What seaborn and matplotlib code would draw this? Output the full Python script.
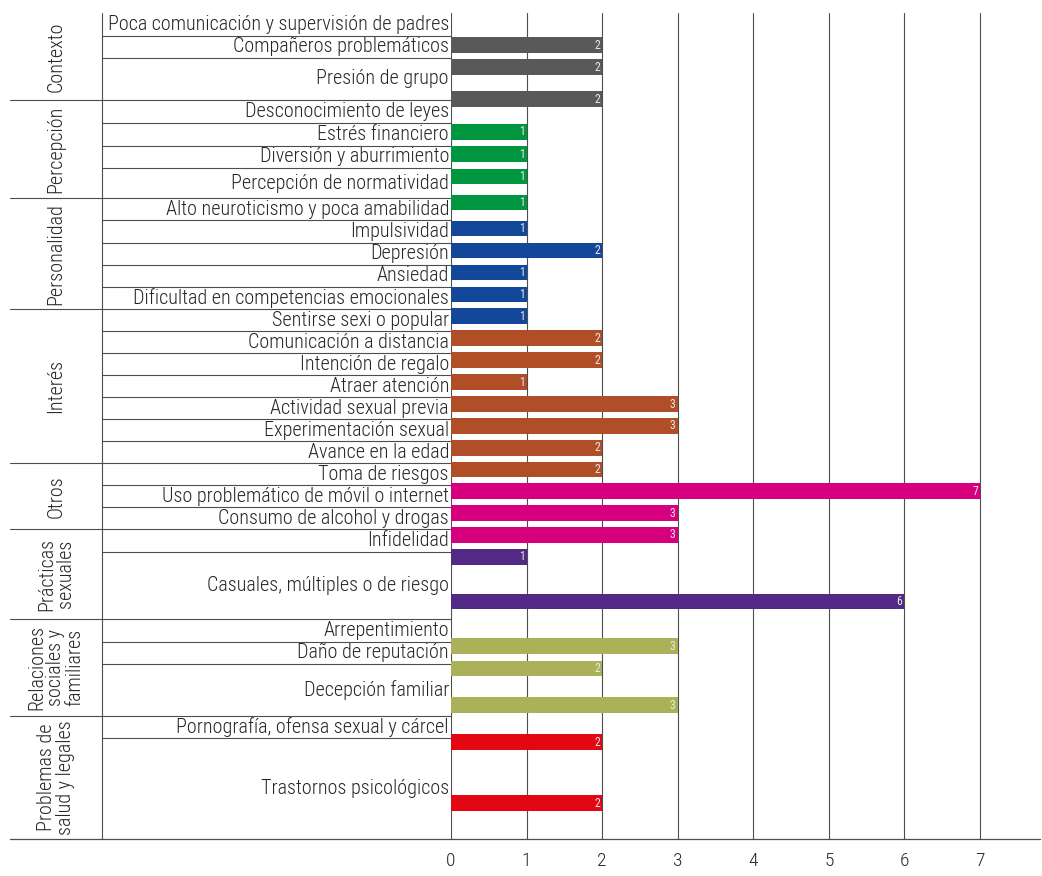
import numpy as np
import pandas as pd
import matplotlib.pyplot as plt
from matplotlib import font_manager as fm
import seaborn as sns


def has_font(name):
    try:
        fm.findfont(fm.FontProperties(family=name), fallback_to_default=False)
        return True
    except ValueError:
        return False


sns.set_theme(style="white")
narrow = next((f for f in ["Liberation Sans Narrow", "Roboto Condensed"] if has_font(f)), None)
main_font = narrow if narrow else "Roboto"
FS = 14.5 if narrow else 13
plt.rcParams['font.family'] = [main_font, 'DejaVu Sans']

# ---- data ----
group_names = ["Contexto", "Percepción", "Personalidad", "Interés", "Otros",
               "Prácticas\nsexuales", "Relaciones\nsociales y\nfamiliares",
               "Problemas de\nsalud y legales"]
group_sizes = [3, 4, 5, 7, 3, 2, 3, 2]
group_colors = ["#595959", "#009640", "#13479a", "#b04f27", "#d6007f",
                "#522a86", "#abb158", "#e30613"]

categories = [
    "Poca comunicación y supervisión de padres", "Compañeros problemáticos", "Presión de grupo",
    "Desconocimiento de leyes", "Estrés financiero", "Diversión y aburrimiento",
    "Percepción de normatividad",
    "Alto neuroticismo y poca amabilidad", "Impulsividad", "Depresión", "Ansiedad",
    "Dificultad en competencias emocionales",
    "Sentirse sexi o popular", "Comunicación a distancia", "Intención de regalo",
    "Atraer atención", "Actividad sexual previa", "Experimentación sexual", "Avance en la edad",
    "Toma de riesgos", "Uso problemático de móvil o internet", "Consumo de alcohol y drogas",
    "Infidelidad", "Casuales, múltiples o de riesgo",
    "Arrepentimiento", "Daño de reputación", "Decepción familiar",
    "Pornografía, ofensa sexual y cárcel", "Trastornos psicológicos",
]
values = [2, 2, 2,
          1, 1, 1, 1,
          1, 2, 1, 1, 1,
          2, 2, 1, 3, 3, 2, 2,
          7, 3, 3,
          1, 6,
          3, 2, 3,
          2, 2]
xticks = [0, 1, 2, 3, 4, 5, 6, 7]

# ---- layout (pixels) ----
W, H = 1042, 876
row_h = np.array([23.5, 21.5, 42.5, 23.3, 22.4, 22, 30.6, 22, 22.4, 22, 22, 22.3,
                  22, 22, 22.3, 22, 22, 22, 22, 22, 22, 22, 22.4, 67.6, 22.4, 22.3,
                  52, 22.3, 100.7])
edges = np.concatenate([[0], np.cumsum(row_h)])
centers = (edges[:-1] + edges[1:]) / 2
total = edges[-1]
PX = 75.57            # pixels per unit on x
X0, XR = 451, 1040     # x pixel of 0 and right end
TOP, BOT = 12.5, 839
BAR_TOP, BAR_SCALE = 33.35, 0.9917   # bars sit slightly lower than their labels
BAR_PX = 15.7


def px2x(p):
    return (p - X0) / PX


group_of = np.repeat(group_names, group_sizes)
df = pd.DataFrame({"categoria": categories, "valor": values,
                   "grupo": group_of, "centro": centers})
palette = dict(zip(group_names, group_colors))

text_col = "#262626"
line_col = "#4d4d4d"

fig = plt.figure(figsize=(W / 100, H / 100), dpi=100)
ax = fig.add_axes([X0 / W, (H - BOT) / H, (XR - X0) / W, (BOT - TOP) / H])
bar_h = BAR_SCALE * total
bx = fig.add_axes([X0 / W, (H - BAR_TOP - bar_h) / H, (XR - X0) / W, bar_h / H])
bx.set_facecolor("none")

# grid / table axes
ax.set_xlim(0, px2x(XR))
ax.set_ylim(total, 0)
ax.set_xticks(xticks)
ax.set_yticks([])
ax.xaxis.grid(True, color=line_col, linewidth=0.8)
ax.tick_params(axis="x", length=0, pad=9, labelsize=14, labelcolor=text_col)
for lab in ax.get_xticklabels():
    lab.set_fontweight("light")
for s in ax.spines.values():
    s.set_visible(False)

# bottom line
ax.plot([px2x(10), px2x(XR)], [total, total], color=line_col, lw=0.9, clip_on=False)
# vertical line left of category labels
ax.plot([px2x(102), px2x(102)], [0, total], color=line_col, lw=0.8, clip_on=False)

group_ends = np.cumsum(group_sizes)
for i in range(1, len(categories)):
    start = px2x(10) if i in group_ends else px2x(102)
    ax.plot([start, 0], [edges[i], edges[i]], color=line_col, lw=0.8, clip_on=False)

for cat, c in zip(categories, centers):
    ax.text(px2x(449), c, cat, ha="right", va="center", fontsize=FS,
            fontweight="light", color=text_col, clip_on=False)

g_start = 0
for name, n in zip(group_names, group_sizes):
    gc = (edges[g_start] + edges[g_start + n]) / 2
    ax.text(px2x(56), gc, name, rotation=90, ha="center", va="center",
            multialignment="center", linespacing=1.0, fontsize=FS,
            fontweight="light", color=text_col, clip_on=False)
    g_start += n

# bars
width = (BAR_PX / BAR_SCALE) / np.diff(centers).min()
sns.barplot(data=df, x="valor", y="centro", hue="grupo", palette=palette,
            hue_order=group_names, orient="y", native_scale=True, dodge=False,
            width=width, errorbar=None, linewidth=0, saturation=1,
            legend=False, ax=bx)
bx.set_xlim(0, px2x(XR))
bx.set_ylim(total, 0)
bx.axis("off")

for v, c in zip(values, centers):
    bx.text(v - 2 / PX, c, str(v), ha="right", va="center", fontsize=8.5,
            color="#e8e8e8")

plt.savefig("out.png", dpi=100)
